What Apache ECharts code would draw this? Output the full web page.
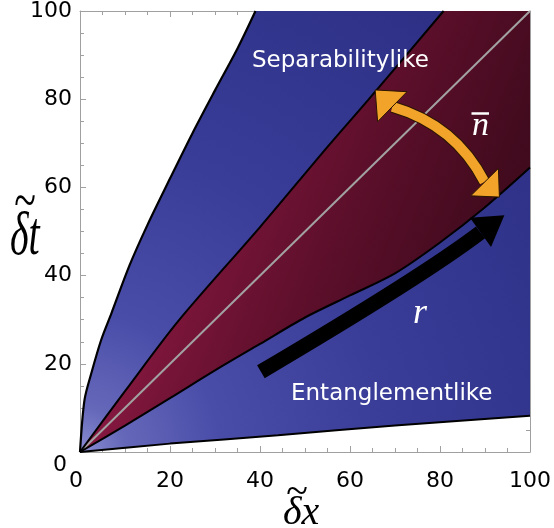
<!DOCTYPE html>
<html><head><meta charset="utf-8">
<script src="https://cdn.jsdelivr.net/npm/echarts@6/dist/echarts.min.js"></script>
<style>html,body{margin:0;padding:0;background:#fff}#c{width:554px;height:528px}</style>
</head><body><div id="c"></div>
<script>
// axis ticks
const xTicks = [0, 20, 40, 60, 80, 100];
const yTicks = [0, 20, 40, 60, 80, 100];
// outer (separability-side) boundary of the blue region
const sepEdgeX = [0, 1.0, 2.5, 4.7, 7, 11, 15, 20, 25, 30, 35, 39];
const sepEdgeY = [0, 11.8, 17.8, 25.4, 31.5, 42.3, 51.5, 62, 72.3, 82, 91.5, 100];
// outer (entanglement-side) boundary of the blue region
const entEdgeX = [0, 20, 44, 70, 100];
const entEdgeY = [0, 1.9, 3.8, 6.0, 8.2];
// upper boundary of the red region
const redUpX = [0, 10, 22, 40, 55, 64, 80.8];
const redUpY = [0, 13.8, 29.9, 51, 69.2, 79.8, 100];
// lower boundary of the red region
const redLoX = [0, 10, 20, 30, 40, 50, 60, 70, 80, 90, 100];
const redLoY = [0, 6, 12.2, 18.5, 24.5, 30.5, 35.5, 40.5, 47.5, 55.5, 64.5];
// light-cone diagonal
const diagX = [0, 100];
const diagY = [0, 100];
// r arrow: tail, middle, head base, tip
const rArrowX = [40.2, 70.5, 89.0, 94.3];
const rArrowY = [18.2, 37.0, 49.8, 53.7];
// n-bar double arrow: upper tip, upper base, bend control, lower base, lower tip
const nArrowX = [65.6, 69.4, 83.5, 89.9, 93.2];
const nArrowY = [82.1, 78.3, 74.1, 61.2, 57.8];

const pairs = (xs, ys) => xs.map((x, i) => [x, ys[i]]);
const pts = (api, xs, ys) => xs.map((x, i) => api.coord([x, ys[i]]));

const chart = echarts.init(document.getElementById('c'), null, {renderer: 'canvas'});

const axGray = '#a0a0a0';
function xAx(pos, show) {
  return {
    type: 'value', min: 0, max: 100, interval: 20, position: pos,
    axisLine: {show: true, onZero: false, lineStyle: {color: axGray, width: 1}},
    axisTick: {show: true, inside: true, length: 6, lineStyle: {color: axGray}},
    minorTick: {show: true, splitNumber: 4, length: 4, lineStyle: {color: axGray}},
    splitLine: {show: false},
    axisLabel: show ? {
      color: '#000', fontFamily: 'DejaVu Sans', fontSize: 22, margin: 18,
      formatter: v => v === 0 ? '{z|0}' : String(v),
      rich: {z: {padding: [0, 8, 0, 0], fontSize: 22, fontFamily: 'DejaVu Sans', color: '#000'}}
    } : {show: false}
  };
}
function yAx(pos, show) {
  return {
    type: 'value', min: 0, max: 100, interval: 20, position: pos,
    axisLine: {show: true, onZero: false, lineStyle: {color: axGray, width: 1}},
    axisTick: {show: true, inside: true, length: 6, lineStyle: {color: axGray}},
    minorTick: {show: true, splitNumber: 4, length: 4, lineStyle: {color: axGray}},
    splitLine: {show: false},
    axisLabel: show ? {
      color: '#000', fontFamily: 'DejaVu Sans', fontSize: 22, margin: 8,
      formatter: v => v === 0 ? '{z|0}' : String(v),
      rich: {z: {padding: [27, 5, 0, 0], fontSize: 22, fontFamily: 'DejaVu Sans', color: '#000'}}
    } : {show: false}
  };
}

function lineSeries(xs, ys, color, width, z, smooth) {
  return {
    type: 'line', data: pairs(xs, ys), symbol: 'none', silent: true, z: z, smooth: smooth || false,
    lineStyle: {color: color, width: width}, xAxisIndex: 0, yAxisIndex: 0, animation: false
  };
}

function headPolygon(tip, base, width) {
  const dx = tip[0] - base[0], dy = tip[1] - base[1];
  const L = Math.hypot(dx, dy) || 1;
  const nx = -dy / L, ny = dx / L;
  return [tip, [base[0] + nx * width / 2, base[1] + ny * width / 2], [base[0] - nx * width / 2, base[1] - ny * width / 2]];
}

const option = {
  animation: false,
  grid: {left: 80, top: 11, right: 20, bottom: 76, containLabel: false},
  xAxis: [xAx('bottom', true), xAx('top', false)],
  yAxis: [yAx('left', true), yAx('right', false)],
  series: [
    { // blue region
      type: 'custom', coordinateSystem: 'cartesian2d', data: [[0, 0]], z: 1, silent: true,
      renderItem: (params, api) => {
        const p = pts(api, sepEdgeX, sepEdgeY)
          .concat([api.coord([100, 100]), api.coord([100, entEdgeY[entEdgeY.length - 1]])])
          .concat(pts(api, entEdgeX, entEdgeY).reverse());
        const o = api.coord([0, 0]);
        return {type: 'polygon', shape: {points: p}, style: {
          fill: new echarts.graphic.RadialGradient(o[0], o[1], 560, [
            {offset: 0, color: '#8a8dd2'}, {offset: 0.08, color: '#6568b9'},
            {offset: 0.25, color: '#4a4da8'}, {offset: 0.55, color: '#3a3d98'},
            {offset: 1, color: '#2d3085'}], true)
        }};
      }
    },
    { // red region
      type: 'custom', coordinateSystem: 'cartesian2d', data: [[0, 0]], z: 2, silent: true,
      renderItem: (params, api) => {
        const p = pts(api, redUpX, redUpY)
          .concat([api.coord([100, 100]), api.coord([100, redLoY[redLoY.length - 1]])])
          .concat(pts(api, redLoX, redLoY).reverse());
        return {type: 'polygon', shape: {points: p}, style: {
          fill: new echarts.graphic.LinearGradient(60, 200, 540, 400, [
            {offset: 0, color: '#aa2a5e'}, {offset: 0.2, color: '#8c1944'},
            {offset: 0.32, color: '#761437'}, {offset: 0.5, color: '#5e0f2b'},
            {offset: 0.75, color: '#440b1f'}, {offset: 1, color: '#360817'}], true)
        }};
      }
    },
    lineSeries(diagX, diagY, '#a2a2a2', 2, 3),
    lineSeries(sepEdgeX, sepEdgeY, '#000', 2.2, 4, 0.3),
    lineSeries(entEdgeX, entEdgeY, '#000', 2, 4, 0.3),
    lineSeries(redUpX, redUpY, '#000', 2, 4, 0.3),
    lineSeries(redLoX, redLoY, '#000', 2, 4, 0.3),
    { // r arrow
      type: 'custom', coordinateSystem: 'cartesian2d', data: [[0, 0]], z: 6, silent: true,
      renderItem: (params, api) => {
        const [T, M, B, P] = pts(api, rArrowX, rArrowY);
        const C = [2 * M[0] - (T[0] + B[0]) / 2, 2 * M[1] - (T[1] + B[1]) / 2];
        return {type: 'group', children: [
          {type: 'bezierCurve', shape: {x1: T[0], y1: T[1], x2: B[0], y2: B[1], cpx1: C[0], cpy1: C[1]},
            style: {stroke: '#000', lineWidth: 15, fill: null, lineCap: 'butt'}},
          {type: 'polygon', shape: {points: headPolygon(P, B, 36)}, style: {fill: '#000'}}
        ]};
      }
    },
    { // n-bar double arrow
      type: 'custom', coordinateSystem: 'cartesian2d', data: [[0, 0]], z: 7, silent: true,
      renderItem: (params, api) => {
        const [Ut, Ub, C, Lb, Lt] = pts(api, nArrowX, nArrowY);
        const orange = '#f2a42a', edge = '#2a1500';
        const curve = (w, c) => ({type: 'bezierCurve',
          shape: {x1: Ub[0], y1: Ub[1], x2: Lb[0], y2: Lb[1], cpx1: C[0], cpy1: C[1]},
          style: {stroke: c, lineWidth: w, fill: null, lineCap: 'butt'}});
        return {type: 'group', children: [
          curve(12, edge), curve(10, orange),
          {type: 'polygon', shape: {points: headPolygon(Ut, Ub, 42)}, style: {fill: orange, stroke: edge, lineWidth: 1}},
          {type: 'polygon', shape: {points: headPolygon(Lt, Lb, 39)}, style: {fill: orange, stroke: edge, lineWidth: 1}}
        ]};
      }
    }
  ],
  graphic: [
    {type: 'text', x: 252, y: 61, z: 20, silent: true, style: {text: 'Separabilitylike', fill: '#fff',
      font: '23px "DejaVu Sans"', verticalAlign: 'middle', align: 'left'}},
    {type: 'text', x: 291, y: 394.5, z: 20, silent: true, style: {text: 'Entanglementlike', fill: '#fff',
      font: '23px "DejaVu Sans"', verticalAlign: 'middle', align: 'left'}},
    {type: 'text', x: 420, y: 313.5, z: 20, silent: true, style: {text: 'r', fill: '#fff',
      font: 'italic 36px "Liberation Serif"', verticalAlign: 'middle', align: 'center'}},
    {type: 'text', x: 480.5, y: 126.5, z: 20, silent: true, style: {text: 'n', fill: '#fff',
      font: 'italic 34px "Liberation Serif"', verticalAlign: 'middle', align: 'center'}},
    {type: 'line', z: 20, silent: true, shape: {x1: 471.5, y1: 113.5, x2: 489, y2: 113.5}, style: {stroke: '#fff', lineWidth: 2.5}},
    {type: 'text', x: 10, y: 238, scaleY: 1.55, z: 20, silent: true, style: {text: 'δt', fill: '#000',
      font: 'italic 40px "Liberation Serif"', verticalAlign: 'middle', align: 'left'}},
    {type: 'text', x: 25, y: 204, scaleY: 1.4, z: 20, silent: true, style: {text: '~', fill: '#000',
      font: '40px "Liberation Serif"', verticalAlign: 'middle', align: 'center'}},
    {type: 'text', x: 283, y: 513, z: 20, silent: true, style: {text: 'δx', fill: '#000',
      font: 'italic 40px "Liberation Serif"', verticalAlign: 'middle', align: 'left'}},
    {type: 'text', x: 297, y: 493.5, z: 20, silent: true, style: {text: '~', fill: '#000',
      font: '40px "Liberation Serif"', verticalAlign: 'middle', align: 'center'}}
  ]
};
chart.setOption(option);
</script>
</body></html>
